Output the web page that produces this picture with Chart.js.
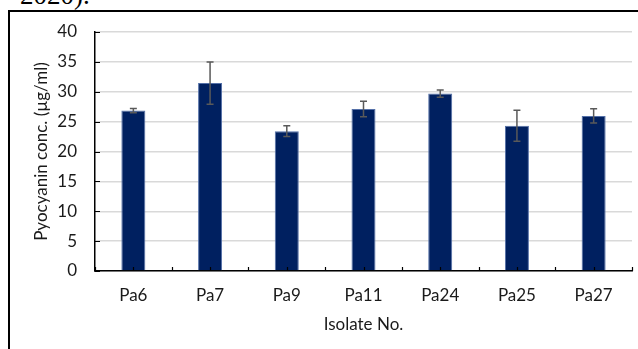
<!DOCTYPE html>
<html>
<head>
<meta charset="utf-8">
<script src="https://cdn.jsdelivr.net/npm/chart.js@4.4.1/dist/chart.umd.min.js"></script>
<style>
  html, body { margin: 0; padding: 0; background: #fff; overflow: hidden; }
  #wrap { position: relative; width: 638px; height: 349px; overflow: hidden; }
  #chart { position: absolute; left: 0; top: 0; }
  #frame {
    position: absolute; left: 8px; top: 10px; width: 700px; height: 400px;
    border-left: 2px solid #000; border-top: 2px solid #000; box-sizing: border-box;
  }
  #ref {
    position: absolute; left: 20px; top: -18px; font-family: "Liberation Serif", serif;
    font-size: 27px; line-height: 1; color: #000; white-space: nowrap;
  }
</style>
</head>
<body>
<div id="wrap">
  <div id="ref">2020).</div>
  <div id="frame"></div>
  <canvas id="chart" width="638" height="349"></canvas>
</div>
<script>
// Pyocyanin production per isolate (mean ± SD)
const categories = ['Pa6', 'Pa7', 'Pa9', 'Pa11', 'Pa24', 'Pa25', 'Pa27'];
const means = [26.85, 31.45, 23.4, 27.1, 29.7, 24.3, 25.95];
const errors = [0.35, 3.55, 0.9, 1.3, 0.6, 2.6, 1.2];
const yTicks = [0, 5, 10, 15, 20, 25, 30, 35, 40];

const FONT = 'Lato';
const SIZE = 17;
const TEXT = '#1a1a1a';

// error bars drawn from the y scale
const errorBars = {
  id: 'errorBars',
  afterDatasetsDraw(chart) {
    const { ctx, scales: { x, y } } = chart;
    ctx.save();
    ctx.strokeStyle = '#595959';
    ctx.lineWidth = 1.5;
    means.forEach((m, i) => {
      const cx = x.getPixelForValue(i);
      const top = y.getPixelForValue(m + errors[i]);
      const bot = y.getPixelForValue(m - errors[i]);
      ctx.beginPath();
      ctx.moveTo(cx, top); ctx.lineTo(cx, bot);
      ctx.moveTo(cx - 3.5, top); ctx.lineTo(cx + 3.5, top);
      ctx.moveTo(cx - 3.5, bot); ctx.lineTo(cx + 3.5, bot);
      ctx.stroke();
    });
    ctx.restore();
  }
};

// tick marks pointing into the plot area
const innerTicks = {
  id: 'innerTicks',
  afterDatasetsDraw(chart) {
    const { ctx, scales: { x, y } } = chart;
    ctx.save();
    ctx.strokeStyle = '#000';
    ctx.lineWidth = 1.2;
    ctx.beginPath();
    const x0 = x.left;
    yTicks.forEach(v => {
      const py = Math.round(y.getPixelForValue(v)) + 0.5;
      ctx.moveTo(x0, py); ctx.lineTo(x0 + 5, py);
    });
    const yb = y.bottom;
    for (let i = -0.5; i <= categories.length - 0.5; i += 0.5) {
      const px = Math.round(x.getPixelForValue(i)) + 0.5;
      ctx.moveTo(px, yb); ctx.lineTo(px, yb - 4);
    }
    ctx.stroke();
    ctx.restore();
  }
};

new Chart(document.getElementById('chart'), {
  type: 'bar',
  data: {
    labels: categories,
    datasets: [{
      data: means,
      backgroundColor: '#002060',
      borderColor: '#5470a8',
      borderWidth: 1,
      barPercentage: 0.313,
      categoryPercentage: 1
    }]
  },
  options: {
    responsive: false,
    animation: false,
    events: [],
    layout: { padding: { left: 0, top: 32, right: 6, bottom: 0 } },
    plugins: { legend: { display: false }, tooltip: { enabled: false } },
    scales: {
      x: {
        offset: true,
        grid: { display: false, drawTicks: false },
        border: { display: true, color: '#000', width: 1.5 },
        ticks: { color: TEXT, font: { family: FONT, size: SIZE }, padding: 14 },
        title: {
          display: true, text: 'Isolate No.', color: TEXT,
          font: { family: FONT, size: SIZE }, padding: { top: 0, bottom: 14 }
        },
        afterFit(s) { s.height = 78; }
      },
      y: {
        min: 0, max: 40,
        afterBuildTicks(s) { s.ticks = yTicks.map(v => ({ value: v })); },
        grid: { color: '#d9d9d9', lineWidth: 1.5, drawTicks: false },
        border: { display: true, color: '#000', width: 1.5 },
        ticks: { color: TEXT, font: { family: FONT, size: SIZE }, padding: 18 },
        title: {
          display: true, text: 'Pyocyanin conc. (µg/ml)', color: TEXT,
          font: { family: FONT, size: SIZE }, padding: { top: 31, bottom: 0 }
        },
        afterFit(s) { s.width = 95; }
      }
    }
  },
  plugins: [errorBars, innerTicks]
});
</script>
</body>
</html>
